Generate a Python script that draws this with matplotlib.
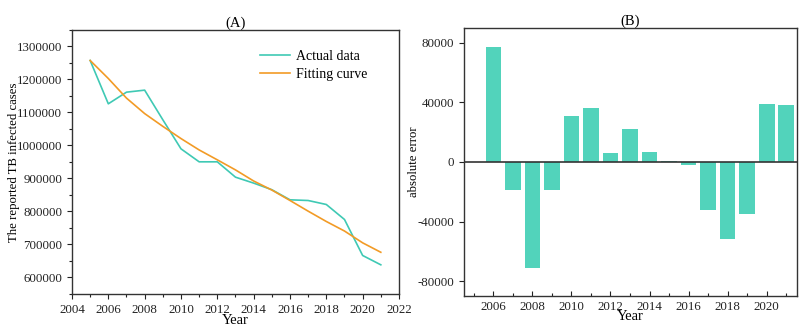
import matplotlib
matplotlib.use("Agg")
import matplotlib.pyplot as plt
from matplotlib.ticker import MultipleLocator

plt.rcParams['font.family'] = ['Liberation Serif', 'DejaVu Serif']
plt.rcParams['axes.unicode_minus'] = False

years = [2005, 2006, 2007, 2008, 2009, 2010, 2011, 2012, 2013, 2014, 2015,
         2016, 2017, 2018, 2019, 2020, 2021]
actual = [1257600, 1126300, 1161600, 1167700, 1078000, 989900, 950500, 950500,
          904000, 886000, 866000, 835400, 833300, 821200, 775800, 666700, 638400]
fitted = [1257600, 1203000, 1143600, 1096700, 1058000, 1021000, 986500, 956500,
          926000, 892400, 865000, 833400, 801000, 769700, 740800, 705000, 676400]

err_years = [2006, 2007, 2008, 2009, 2010, 2011, 2012, 2013, 2014, 2015, 2016,
             2017, 2018, 2019, 2020, 2021]
errors = [77300, -18500, -71500, -19000, 31000, 36000, 6300, 22300, 6500, 900,
          -2000, -32000, -51600, -35100, 38700, 38200]

teal = '#3fc9b4'
orange = '#f29b26'
bar_color = '#52d3bb'
spine_c = '#333333'

fig = plt.figure(figsize=(8.07, 3.34), dpi=100)
axA = fig.add_axes([0.0892, 0.1198, 0.4052, 0.7904])
axB = fig.add_axes([0.575, 0.1138, 0.4126, 0.8024])

fs = 9.3

# Panel A
axA.plot(years, actual, color=teal, lw=1.2, label='Actual data')
axA.plot(years, fitted, color=orange, lw=1.2, label='Fitting curve')
axA.set_xlim(2004, 2022)
axA.set_ylim(550000, 1350000)
axA.ticklabel_format(style='plain', axis='y', useOffset=False)
axA.xaxis.set_major_locator(MultipleLocator(2))
axA.xaxis.set_minor_locator(MultipleLocator(1))
axA.yaxis.set_major_locator(MultipleLocator(100000))
axA.yaxis.set_minor_locator(MultipleLocator(50000))
axA.tick_params(which='both', direction='out', labelsize=fs, colors='#222222')
axA.tick_params(which='major', length=3.5, width=0.8)
axA.tick_params(which='minor', length=2, width=0.8)
axA.set_xlabel('Year', fontsize=10.5, labelpad=-1)
axA.set_ylabel('The reported TB infected cases', fontsize=9.2)
axA.yaxis.set_label_coords(-0.159, 0.5)
axA.set_title('(A)', fontsize=10.5, pad=2)
leg = axA.legend(loc='upper right', bbox_to_anchor=(0.92, 0.947),
                 frameon=False, fontsize=10, handlelength=2.2,
                 handletextpad=0.4, borderaxespad=0.0, labelspacing=0.4)
for s in axA.spines.values():
    s.set_color(spine_c)
    s.set_linewidth(1.0)

# Panel B
axB.bar(err_years, errors, width=0.8, color=bar_color)
axB.axhline(0, color='#333333', lw=1.2)
axB.set_xlim(2004.5, 2021.55)
axB.set_ylim(-90000, 90000)
axB.xaxis.set_major_locator(MultipleLocator(2))
axB.xaxis.set_minor_locator(MultipleLocator(1))
axB.set_yticks([-80000, -40000, 0, 40000, 80000])
axB.tick_params(axis='x', which='both', direction='in', labelsize=fs, colors='#222222')
axB.tick_params(axis='y', which='both', direction='out', labelsize=fs, colors='#222222')
axB.tick_params(which='major', length=3.5, width=0.8)
axB.tick_params(which='minor', length=2, width=0.8)
axB.set_xlabel('Year', fontsize=10.5, labelpad=-2)
axB.set_ylabel('absolute error', fontsize=9.2)
axB.yaxis.set_label_coords(-0.132, 0.5)
axB.set_title('(B)', fontsize=10.5, pad=2)
for s in axB.spines.values():
    s.set_color(spine_c)
    s.set_linewidth(1.0)

fig.savefig('out.png', dpi=100)
